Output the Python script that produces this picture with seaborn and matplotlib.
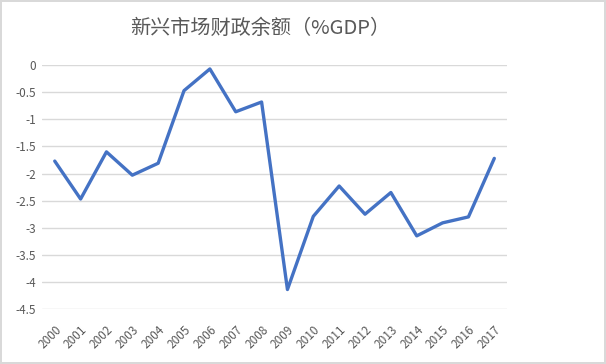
import pandas as pd
import matplotlib.pyplot as plt
import seaborn as sns

years = [str(y) for y in range(2000, 2018)]
balance = [-1.77, -2.47, -1.60, -2.03, -1.81, -0.47, -0.07, -0.86, -0.68,
           -4.14, -2.79, -2.23, -2.75, -2.35, -3.15, -2.91, -2.80, -1.72]
yticks = [0, -0.5, -1, -1.5, -2, -2.5, -3, -3.5, -4, -4.5]
ytick_labels = ["0", "-0.5", "-1", "-1.5", "-2", "-2.5", "-3", "-3.5", "-4", "-4.5"]

df = pd.DataFrame({"year": years, "balance": balance})
df["pos"] = range(len(years))

sns.set_theme(style="white")
plt.rcParams["font.family"] = ["Noto Sans CJK SC", "DejaVu Sans"]

fig = plt.figure(figsize=(6.06, 3.64), dpi=100)
fig.patch.set_edgecolor("#d9d9d9")
fig.patch.set_linewidth(1.5)
ax = fig.add_axes([0.069, 0.151, 0.768, 0.670])

sns.lineplot(data=df, x="pos", y="balance", color="#4472C4", linewidth=2.4, ax=ax)

ax.set_xlim(-0.5, len(years) - 0.5)
ax.set_ylim(-4.5, 0)
ax.set_yticks(yticks)
ax.set_yticklabels(ytick_labels)
ax.set_xticks(df["pos"])
ax.set_xticklabels(years, rotation=45, ha="right", rotation_mode="anchor")
ax.tick_params(axis="both", labelsize=8.5, labelcolor="#595959", length=0, pad=4)
ax.tick_params(axis="x", pad=10)
ax.yaxis.grid(True, color="#d9d9d9", linewidth=1)
ax.set_axisbelow(True)
for s in ax.spines.values():
    s.set_visible(False)
ax.set_xlabel("")
ax.set_ylabel("")

fig.suptitle("新兴市场财政余额（%GDP）", x=0.43, y=0.95, fontsize=14.5,
             color="#595959", fontweight="light")

fig.savefig("out.png", dpi=100)
